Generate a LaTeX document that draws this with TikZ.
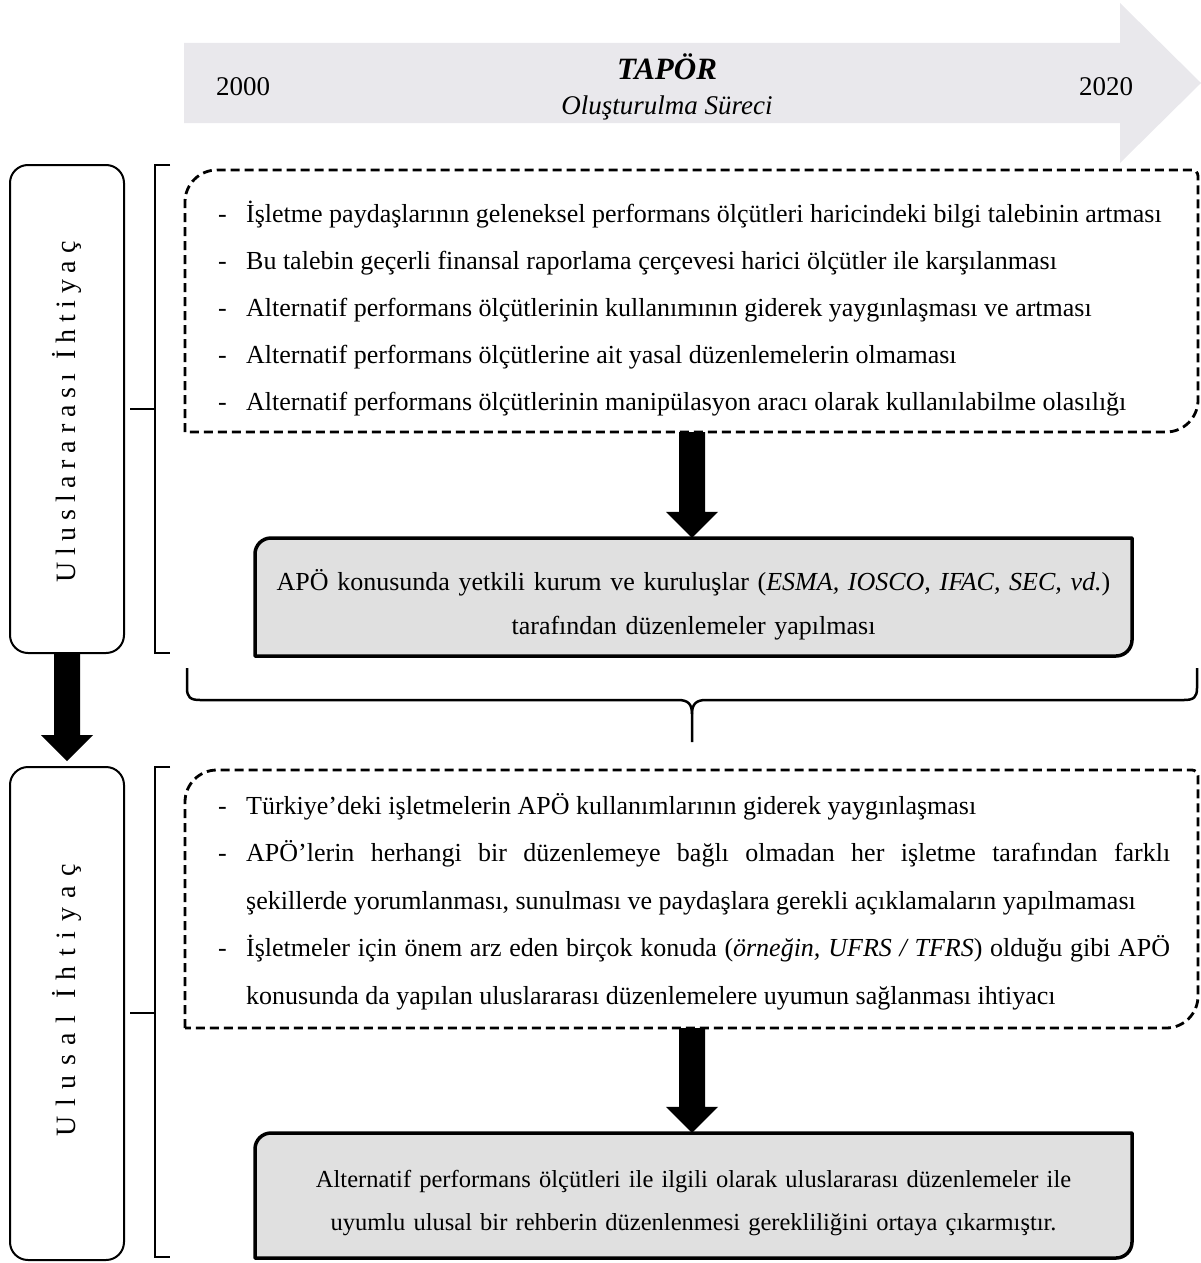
\documentclass[tikz,border=0pt]{standalone}
\usepackage{fontspec}
\setmainfont{Liberation Serif}
\usetikzlibrary{calc}
\definecolor{arrowgray}{HTML}{E9E8EC}
\definecolor{boxgray}{HTML}{E0E0E0}
\newcommand{\itm}{\hangindent=28pt\hangafter=1\noindent\makebox[28pt][l]{-}}
\newcommand{\blockarrow}[2]{%
  \fill let \p1=(#1), \p2=(#2) in
   ({\x1-13pt},{\y1}) -- ({\x1+13pt},{\y1}) -- ({\x1+13pt},{\y2+26pt}) --
   ({\x1+26pt},{\y2+26pt}) -- ({\x1},{\y2}) -- ({\x1-26pt},{\y2+26pt}) --
   ({\x1-13pt},{\y2+26pt}) -- cycle;}
\begin{document}
\begin{tikzpicture}[x=1pt,y=-1pt,
  sidebox/.style={draw, line width=2pt, rounded corners=18pt, minimum width=114pt, inner sep=0pt},
  frame/.style={inner sep=0pt, minimum width=1013pt},
  grayfr/.style={inner sep=0pt, minimum width=877pt},
  dashframe/.style={line width=2.8pt, dash pattern=on 9pt off 5pt, line join=round},
  grayframe/.style={fill=boxgray, draw=black, line width=3.5pt, line join=round},
  bracket/.style={line width=2.5pt},
  body/.style={inner sep=0pt, anchor=base west, text width=952pt, align=justify},
  sidetext/.style={rotate=90, inner sep=0pt},
  years/.style={anchor=base, inner sep=0pt, font=\fontsize{27}{30}\selectfont}]
\useasboundingbox (0,0) rectangle (1201,1263);

% timeline arrow
\fill[arrowgray] (184,43) -- (1120,43) -- (1120,3) -- (1201,83) -- (1120,163) -- (1120,123) -- (184,123) -- cycle;
\node[years] (y0) at (243,95) {2000};
\node[years] (y1) at (1106,95) {2020};
\node[anchor=base, inner sep=0pt, font=\fontsize{31}{33}\selectfont\bfseries\itshape] (tap) at (667,80) {TAPÖR};
\node[anchor=base, inner sep=0pt, font=\fontsize{27}{30}\selectfont\itshape] (ols) at (667,114) {Oluşturulma Süreci};

% side boxes
\node[sidebox, minimum height=488pt] (L1) at (67,409) {};
\node[sidebox, minimum height=493pt] (L2) at (67,1013.5) {};
\node[sidetext, font=\fontsize{28}{30}\selectfont\addfontfeature{LetterSpace=24}] (L1t) at (67,412) {Uluslararası İhtiyaç};
\node[sidetext, font=\fontsize{28}{30}\selectfont\addfontfeature{LetterSpace=34}] (L2t) at (67,1000) {Ulusal İhtiyaç};
\blockarrow{L1.south}{$(L2.north)+(0,-5)$}

% brackets
\draw[bracket] (170,165) -- (155,165) -- (155,653) -- (170,653);
\draw[bracket] (130,409) -- (155,409);
\draw[bracket] (170,767) -- (155,767) -- (155,1257) -- (170,1257);
\draw[bracket] (130,1013) -- (155,1013);

% dashed box 1
\node[frame, minimum height=262pt] (D1) at (692,301) {};
\draw[dashframe] (185,432) -- (185,202) .. controls (185,184.3) and (199.3,170) .. (217,170) -- (1192,170) .. controls (1195.3,170) and (1198,172.7) .. (1198,176) -- (1198,400) .. controls (1198,417.7) and (1183.7,432) .. (1166,432) -- cycle;
\node[body, font=\fontsize{26}{47}\selectfont] (T1) at (218,222) {%
\itm İşletme paydaşlarının geleneksel performans ölçütleri haricindeki bilgi talebinin artması\par
\itm Bu talebin geçerli finansal raporlama çerçevesi harici ölçütler ile karşılanması\par
\itm Alternatif performans ölçütlerinin kullanımının giderek yaygınlaşması ve artması\par
\itm Alternatif performans ölçütlerine ait yasal düzenlemelerin olmaması\par
\itm Alternatif performans ölçütlerinin manipülasyon aracı olarak kullanılabilme olasılığı\par};

% gray box 1
\node[grayfr, minimum height=118pt] (G1) at (692,597) {};
\draw[grayframe] (255,656) -- (255,554) .. controls (255,545.2) and (262.2,538) .. (271,538) -- (1132,538) -- (1132,640) .. controls (1132,648.8) and (1124.8,656) .. (1116,656) -- cycle;
\node[anchor=base, inner sep=0pt, text width=860pt, align=center, font=\fontsize{26}{44}\selectfont] (G1t) at (693.5,590) {APÖ konusunda yetkili kurum ve kuruluşlar (\textit{ESMA, IOSCO, IFAC, SEC, vd.})\\ tarafından düzenlemeler yapılması};
\blockarrow{D1.south}{G1.north}

% curly brace
\draw[bracket] (187,668) -- (187,688) .. controls (187,697) and (190,700) .. (200,700) -- (678,700) .. controls (688,700) and (692,704) .. (692,714) -- (692,742) coordinate (bt);
\draw[bracket] (1197,668) -- (1197,688) .. controls (1197,697) and (1194,700) .. (1184,700) -- (706,700) .. controls (696,700) and (692,704) .. (692,714);

% dashed box 2
\node[frame, minimum height=258pt] (D2) at (692,899) {};
\draw[dashframe] (185,1028) -- (185,802) .. controls (185,784.3) and (199.3,770) .. (217,770) -- (1192,770) .. controls (1195.3,770) and (1198,772.7) .. (1198,776) -- (1198,996) .. controls (1198,1013.7) and (1183.7,1028) .. (1166,1028) -- cycle;
\node[body, font=\fontsize{26}{47.5}\selectfont] (T2) at (218,814) {\hyphenpenalty=10000
\itm Türkiye’deki işletmelerin APÖ kullanımlarının giderek yaygınlaşması\par
\itm APÖ’lerin herhangi bir düzenlemeye bağlı olmadan her işletme tarafından farklı\linebreak şekillerde yorumlanması, sunulması ve paydaşlara gerekli açıklamaların yapılmaması\par
\itm İşletmeler için önem arz eden birçok konuda (\textit{örneğin, UFRS / TFRS}) olduğu gibi APÖ\linebreak konusunda da yapılan uluslararası düzenlemelere uyumun sağlanması ihtiyacı\par};

% gray box 2
\node[grayfr, minimum height=125pt] (G2) at (692,1195.5) {};
\draw[grayframe] (255,1258) -- (255,1149) .. controls (255,1140.2) and (262.2,1133) .. (271,1133) -- (1132,1133) -- (1132,1242) .. controls (1132,1250.8) and (1124.8,1258) .. (1116,1258) -- cycle;
\node[anchor=base, inner sep=0pt, text width=860pt, align=center, font=\fontsize{24.5}{43}\selectfont] (G2t) at (693.5,1187) {Alternatif performans ölçütleri ile ilgili olarak uluslararası düzenlemeler ile\\ uyumlu ulusal bir rehberin düzenlenmesi gerekliliğini ortaya çıkarmıştır.};
\blockarrow{D2.south}{G2.north}
\end{tikzpicture}
\end{document}
